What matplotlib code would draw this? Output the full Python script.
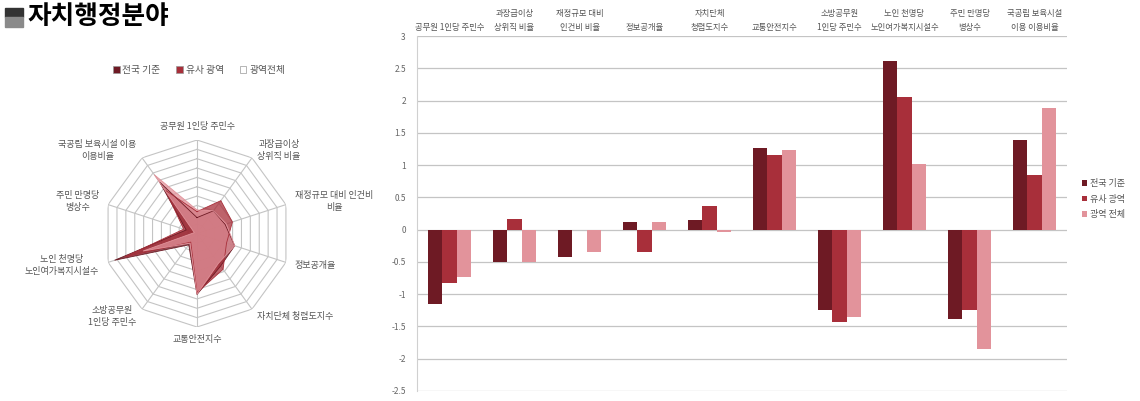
import numpy as np
import matplotlib
matplotlib.use('Agg')
import matplotlib.pyplot as plt
from matplotlib.patches import Patch, Rectangle
from matplotlib.ticker import FuncFormatter

plt.rcParams['font.family'] = ['Noto Sans CJK KR', 'DejaVu Sans']

# 데이터
categories = ['공무원 1인당 주민수', '과장급이상\n상위직 비율', '재정규모 대비\n인건비 비율',
              '정보공개율', '자치단체\n청렴도지수', '교통안전지수', '소방공무원\n1인당 주민수',
              '노인 천명당\n노인여가복지시설수', '주민 만명당\n병상수', '국공립 보육시설\n이용 이용비율']
radar_labels = ['공무원 1인당 주민수', '과장급이상\n상위직 비율', '재정규모 대비 인건비\n비율',
                '정보공개율', '자치단체 청렴도지수', '교통안전지수', '소방공무원\n1인당 주민수',
                '노인 천명당\n노인여가복지시설수', '주민 만명당\n병상수', '국공립 보육시설 이용\n이용비율']
series_names = ['전국 기준', '유사 광역', '광역 전체']
radar_names = ['전국 기준', '유사 광역', '광역전체']
national = [-1.15, -0.50, -0.42, 0.12, 0.15, 1.26, -1.25, 2.62, -1.39, 1.39]
similar = [-0.83, 0.17, -0.01, -0.34, 0.37, 1.16, -1.43, 2.05, -1.25, 0.85]
metro = [-0.74, -0.50, -0.35, 0.12, -0.04, 1.24, -1.36, 1.02, -1.85, 1.88]
colors = ['#6e1a24', '#a82f3a', '#e2939b']

fig = plt.figure(figsize=(11.4, 4.01), dpi=100)

# 제목
fig.patches.append(Rectangle((5 / 1140, 1 - 17 / 401), 18 / 1140, 9 / 401,
                             transform=fig.transFigure, color='#333333'))
fig.patches.append(Rectangle((5 / 1140, 1 - 27 / 401), 18 / 1140, 10 / 401,
                             transform=fig.transFigure, color='#8a8a8a'))
fig.text(27 / 1140, 1 - 16 / 401, '자치행정분야', fontsize=18.5, fontweight='bold',
         va='center', ha='left', color='black')

# ---------- 방사형 차트 ----------
ax_r = fig.add_axes([103.5 / 1140, 74 / 401, 187 / 1140, 187 / 401], projection='polar')
n = len(categories)
theta = np.linspace(0, 2 * np.pi, n, endpoint=False)
ax_r.set_theta_offset(np.pi / 2)
ax_r.set_theta_direction(-1)
ax_r.set_ylim(-2, 3)
ax_r.axis('off')

th_closed = np.append(theta, theta[0])
for lev in np.arange(-1.5, 3.01, 0.5):
    ax_r.plot(th_closed, [lev] * (n + 1), color='#c4c4c4', lw=0.8, zorder=1)
for t in theta:
    ax_r.plot([t, t], [-2, 3], color='#c4c4c4', lw=0.8, zorder=1)

for vals, c in zip([national, similar, metro], colors):
    v = np.append(vals, vals[0])
    ax_r.fill(th_closed, v, color=c, alpha=0.75, lw=0, zorder=2)
    ax_r.plot(th_closed, v, color=c, lw=0.6, zorder=3)

for i, (t, lab) in enumerate(zip(theta, radar_labels)):
    if i == 0:
        ax_r.text(t, 3.7, lab, ha='center', va='center', fontsize=6.5, color='#555555')
    elif i == 5:
        ax_r.text(t, 3.65, lab, ha='center', va='center', fontsize=6.5, color='#555555')
    elif i < 5:
        ax_r.text(t, 3.5, lab, ha='left', va='center', fontsize=6.5, color='#555555',
                  multialignment='center', linespacing=1.5)
    else:
        ax_r.text(t, 3.5, lab, ha='right', va='center', fontsize=6.5, color='#555555',
                  multialignment='center', linespacing=1.5)

r_handles = [Patch(facecolor=c, edgecolor='#999999', lw=0.5) for c in colors[:2]] + \
            [Patch(facecolor='white', edgecolor='#999999', lw=0.5)]
fig.legend(r_handles, radar_names, loc='center', bbox_to_anchor=(199 / 1140, 1 - 70 / 401),
           ncol=3, frameon=False, fontsize=7, handlelength=0.7, handleheight=0.7,
           handletextpad=0.3, columnspacing=1.6, labelcolor='#555555')

# ---------- 막대 차트 ----------
ax = fig.add_axes([417 / 1140, 10 / 401, 650 / 1140, 355 / 401])
x = np.arange(n)
w = 0.22
for k, (vals, c, name) in enumerate(zip([national, similar, metro], colors, series_names)):
    ax.bar(x + (k - 1) * w, vals, width=w, color=c, label=name, zorder=3)

ax.set_xlim(-0.5, n - 0.5)
ax.set_ylim(-2.5, 3)
ax.set_yticks(np.arange(-2.5, 3.01, 0.5))
ax.yaxis.set_major_formatter(FuncFormatter(lambda v, p: '%g' % v))
ax.tick_params(axis='y', labelsize=6, colors='#666666', length=0, pad=8)
ax.grid(axis='y', color='#c4c4c4', lw=0.9, zorder=0)
ax.xaxis.tick_top()
ax.set_xticks(x)
ax.set_xticklabels(categories, fontsize=6, color='#555555', linespacing=1.7)
ax.tick_params(axis='x', length=0, pad=3)
for s in ['right', 'bottom', 'top']:
    ax.spines[s].set_visible(False)
ax.spines['left'].set_color('#d0d0d0')

ax.legend(loc='center left', bbox_to_anchor=(1.01, 0.54), frameon=False, fontsize=6.5,
          handlelength=0.6, handleheight=0.6, handletextpad=0.3, labelspacing=0.7,
          labelcolor='#555555')

fig.savefig('out.png', dpi=100, facecolor='white')
